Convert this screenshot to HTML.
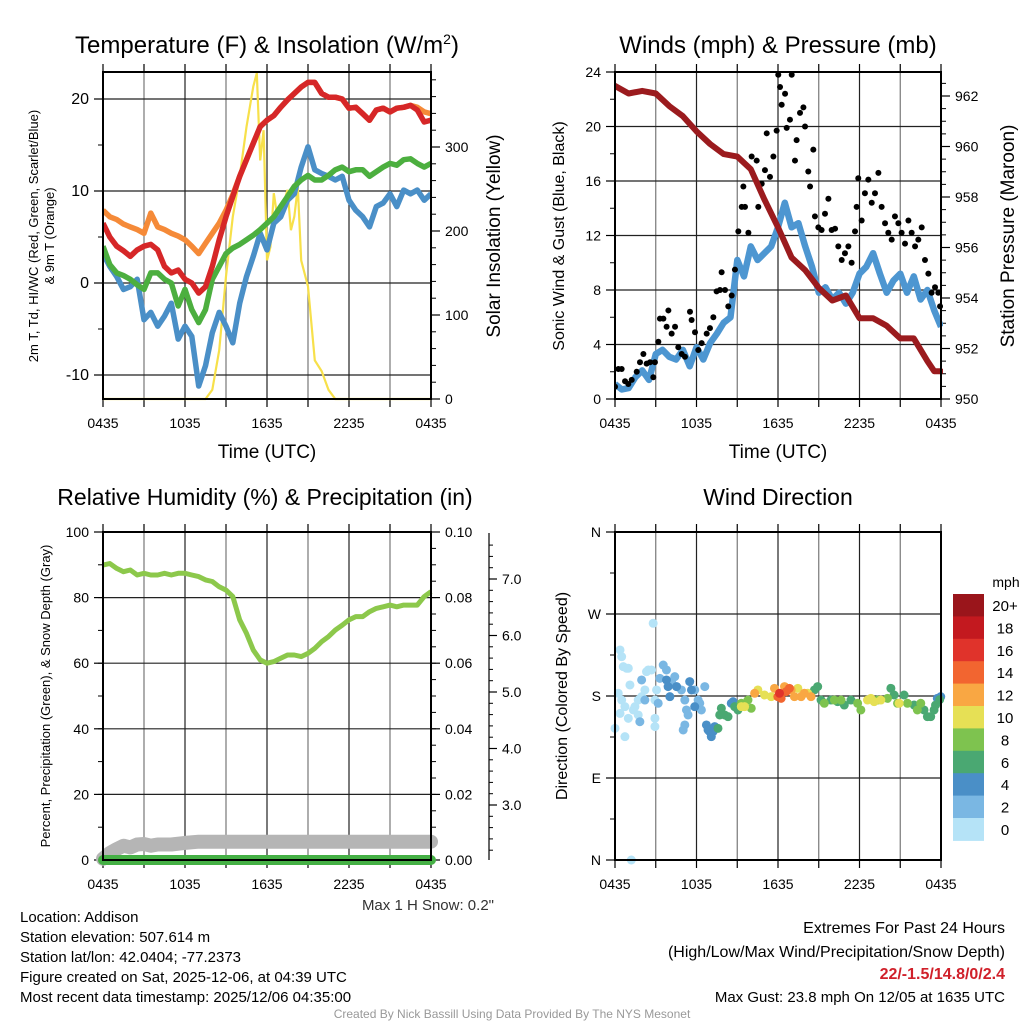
<!DOCTYPE html>
<html><head><meta charset="utf-8"><style>
html,body{margin:0;padding:0;background:#fff;}
svg{display:block;font-family:"Liberation Sans",sans-serif;}
</style></head><body>
<svg id="chart" width="1024" height="1024" viewBox="0 0 1024 1024">
<g id="layer"></g>
</svg>
<script>
// ---------- DATA ----------
const tempT = [0,0.5,1,1.5,2,2.5,3,3.5,4,4.5,5,5.5,6,6.5,7,7.5,8,8.5,9,9.5,10,10.5,11,11.5,12,12.5,13,13.5,14,14.5,15,15.5,16,16.5,17,17.5,18,18.5,19,19.5,20,20.5,21,21.5,22,22.5,23,23.5,24];
const tempRed = [6.5,5.0,4.0,3.5,2.9,3.6,4.0,4.2,3.6,1.8,1.1,1.4,0.4,0,-1.1,-0.4,1.8,4.7,7.2,9.4,11.6,13.4,15.2,17.0,17.7,18.2,19.1,19.9,20.6,21.3,21.8,21.8,20.6,20.2,20.2,20.0,19.0,19.1,18.4,17.7,18.8,19.0,18.6,19.0,19.1,19.3,18.8,17.5,17.7];
const tempOrange = [7.9,7.2,6.9,6.4,6.1,5.8,5.4,7.6,6.1,5.8,5.4,5.1,4.7,4.0,3.2,4.3,5.4,6.5,7.9,9.6,11.6,13.4,15.2,17.0,17.7,18.2,19.1,19.9,20.6,21.3,21.8,21.8,20.6,20.2,20.2,20.0,19.0,19.1,18.4,17.7,18.8,19.0,18.6,19.0,19.1,19.3,19.1,18.6,18.4];
const tempGreen = [4.0,2.0,1.1,0.8,0.4,-0.2,-0.7,1.1,1.1,0.4,0,-2.5,-0.7,-2.9,-4.3,-2.9,0.4,1.8,3.2,3.8,4.2,4.7,5.2,5.8,6.5,7.2,8.3,9.4,10.5,11.2,11.7,11.2,11.2,11.7,12.3,12.6,12.1,12.3,12.3,11.6,12.1,12.6,13.0,12.8,13.4,13.5,13.0,12.6,13.0];
const tempBlue = [3.2,1.8,0.7,-0.7,-0.4,0.4,-4.0,-3.2,-4.7,-3.6,-2.2,-6.1,-4.7,-5.8,-11.2,-9.0,-5.4,-3.2,-4.7,-6.5,-2.2,0.7,2.9,5.4,3.6,6.5,7.2,9.0,9.7,12.6,14.8,12.3,11.9,11.6,11.2,11.6,9.0,7.9,7.2,6.1,8.3,8.7,9.7,8.3,10.1,9.7,10.1,9.0,9.7];
const solarT = [0,7.5,8,8.5,9,9.5,10,10.5,11,11.25,11.5,11.75,12,12.25,12.5,12.75,13,13.5,13.75,14,14.25,14.5,15,15.5,16,16.5,17,24];
const solarV = [0,0,11,58,146,217,265,324,372,388,284,320,165,181,245,217,221,249,201,217,252,165,134,46,33,11,0,0];

const presT = [0,1,2,3,4,5,6,7,8,9,10,11,12,13,14,15,16,17,18,19,20,21,22,23,23.5,24];
const presV = [962.4,962.1,962.2,962.1,961.6,961.2,960.6,960.1,959.7,959.6,959.1,957.9,956.8,955.6,955.1,954.4,953.9,954.1,953.2,953.2,952.9,952.4,952.4,951.5,951.1,951.1];
const windT = tempT;
const windV = [1.1,0.7,0.8,1.6,2.1,1.4,3.3,3.6,3.1,2.9,3.6,2.4,3.8,2.9,4.1,4.8,5.6,6.0,10.2,9.0,11.2,10.2,10.7,11.2,12.6,14.4,12.6,12.9,11.2,9.7,7.8,8.2,7.3,7.8,7.0,7.8,9.2,9.7,10.7,9.2,7.8,8.7,9.2,7.8,9.0,7.3,8.0,6.5,5.3];
const gustT = [0,0.25,0.49,0.74,0.98,1.23,1.6,1.84,2.09,2.33,2.58,2.82,2.94,3.19,3.31,3.56,3.8,3.93,4.17,4.42,4.66,4.91,5.15,5.52,5.64,5.89,6.13,6.38,6.75,6.99,7.24,7.48,7.73,7.85,8.1,8.34,8.59,8.83,9.08,9.33,9.45,9.57,9.82,10.06,10.43,10.55,10.8,11.04,11.17,11.41,11.66,11.9,12.02,12.15,12.27,12.52,12.64,12.88,13.01,13.25,13.37,13.62,13.87,13.99,14.23,14.36,14.6,14.72,14.97,15.21,15.46,15.71,15.95,16.2,16.44,16.69,16.93,17.18,17.42,17.67,17.79,17.91,18.16,18.4,18.65,18.9,19.14,19.39,19.63,19.88,20.12,20.37,20.61,20.86,21.1,21.35,21.6,21.84,22.09,22.33,22.58,22.82,23.07,23.31,23.56,23.8,23.93];
const gustV = [0.9,2.2,2.2,1.3,1.1,1.4,2.0,2.7,3.3,2.6,2.7,1.6,2.7,4.2,5.9,5.9,5.3,6.5,4.8,5.3,3.8,3.3,3.1,6.4,5.8,4.9,3.6,4.1,4.8,5.2,6.0,7.9,8.0,9.3,8.0,6.8,7.6,9.5,12.3,14.1,15.6,14.1,12.2,17.8,17.5,14.1,15.8,16.8,19.5,16.3,17.8,19.7,23.8,22.9,21.6,22.4,19.9,20.5,23.8,17.5,19.0,21.0,21.4,20.0,16.7,15.6,18.3,13.4,12.6,12.4,13.6,14.7,12.4,12.5,11.2,10.2,10.7,11.2,10.0,12.3,14.1,16.2,13.1,15.1,16.1,14.4,15.1,16.6,14.1,12.9,12.2,11.7,13.4,12.9,12.2,11.4,13.1,12.2,11.2,11.7,12.6,10.2,9.2,7.8,8.2,7.8,6.8];

const rhT = tempT;
const rhV = [89.9,90.4,88.9,87.9,88.4,86.9,87.4,86.9,86.9,87.4,86.9,87.4,87.4,86.9,86.4,85.4,84.9,83.3,82.3,80.3,73.2,69.1,64.0,61.0,60.0,60.5,61.5,62.5,62.5,62.0,63.0,64.5,66.6,68.1,70.1,71.6,73.2,74.2,74.2,75.7,76.7,77.2,77.7,77.2,77.7,77.7,77.7,80.3,81.8];
const snowT = [0,0.5,1,1.5,2,2.5,3,3.5,4,4.5,5,6,7,24];
const snowV = [2.05,2.15,2.22,2.28,2.25,2.3,2.31,2.28,2.3,2.3,2.3,2.33,2.35,2.35];
const precipT = [0,24];
const precipV = [0,0];

const dirT = [0.37,0.49,0.61,0.86,0.98,1.1,0.24,0.49,0.73,0.37,0,0.73,0.98,1.47,1.71,1.96,2.2,2.32,2.45,2.69,2.81,2.94,2.94,3.06,2.94,1.71,1.35,1.2,
1.96,1.83,2.2,3.18,3.3,3.55,3.79,4.16,4.4,4.53,4.89,5.14,5.26,5.38,5.14,5.02,5.87,6.12,6.36,6.61,6.24,
3.79,3.91,4.04,4.53,5.5,5.63,5.87,6.73,6.85,6.97,7.09,7.22,7.34,8.56,8.69,23.73,23.98,
7.58,7.71,7.83,8.07,8.32,8.81,9.05,14.92,14.68,15.17,15.9,16.39,16.88,17.37,20.31,20.55,21.28,22.02,22.75,23,23.24,23.49,23.6,23.9,
9.3,9.79,10.03,15.41,16.15,16.64,17.86,18.1,19.33,20.06,20.8,21.53,22.26,22.51,
9.3,9.54,10.52,11.01,11.5,13.46,14.19,18.59,18.84,19.08,19.57,20.92,
10.28,11.74,12.48,12.97,13.21,13.7,13.94,14.43,
11.99,12.23,12.6,12.84,
12.11];
const dirDeg = [230.5,223.2,212.2,210.4,210.4,192.1,183,175.6,168.3,160.9,144.5,135.4,155.5,168.3,175.6,179.3,186.6,206.7,208.6,208.6,259.8,175.6,146.4,186.6,155.5,159.2,164.7,0,
197.6,151.8,175.6,172,199.4,214,208.6,195.8,201.2,190.3,186.6,175.6,164.7,159.2,148.2,142.7,186.6,175.6,164.7,190.3,172,
197.6,190.3,179.3,190.3,195.8,186.6,168.3,148.2,142.7,140.9,135.4,140.9,146.4,172,173.8,177.4,179.3,
144.5,159.2,166.5,159.2,157.3,168.3,164.7,190.3,186.6,175.6,175.6,173.8,170.1,175.6,188.4,181.1,181.1,170.1,164.7,157.3,157.3,164.7,170,176,
172,175.6,166.5,172,175.6,175.6,172,164.7,175.6,177.4,172,172,164.7,172,
168.3,168.3,186.6,181.1,179.3,188.4,183,175.6,177.4,173.8,175.6,172,
183,188.4,190.3,186.6,179.3,179.3,183,179.3,
179.3,177.4,184.8,188.4,
183];
const dirSpd = [1,1,1,1,1,1,1,1,1,1,1,1,1,1,1,1,1,1,1,1,1,1,1,1,1,1,1,1,
3,3,3,3,3,3,3,3,3,3,3,3,3,3,3,3,3,3,3,3,3,
5,5,5,5,5,5,5,5,5,5,5,5,5,5,5,5,5,
7,7,7,7,7,7,7,7,7,7,7,7,7,7,7,7,7,7,7,7,7,7,7,7,
9,9,9,9,9,9,9,9,9,9,9,9,9,9,
11,11,11,11,11,11,11,11,11,11,11,11,
13,13,13,13,13,13,13,13,
15,15,15,15,
17];
const speedLabels = ["0","2","4","6","8","10","12","14","16","18","20+"];
const speedColors = ["#b5e3f7","#7ab7e3","#4a8fc7","#4aa872","#7ec34f","#e6e055","#f9a743","#f26530","#e0332b","#c3191f","#9a151b"];
const timeLabels = ["0435","1035","1635","2235","0435"];

// ---------- helpers ----------
const NS="http://www.w3.org/2000/svg";
const root=document.getElementById('layer');
function mk(tag,attrs,parent){const e=document.createElementNS(NS,tag);for(const k in attrs)e.setAttribute(k,attrs[k]);(parent||root).appendChild(e);return e;}
function txt(x,y,s,size,anchor,parent,extra){const e=mk('text',Object.assign({x:x,y:y,'font-size':size,'text-anchor':anchor||'middle'},extra||{}),parent);e.textContent=s;return e;}
function lin(d0,d1,r0,r1){return v=>r0+(v-d0)*(r1-r0)/(d1-d0);}
function pathD(xs,ys,fx,fy){return xs.map((t,i)=>(i?'L':'M')+fx(t).toFixed(1)+' '+fy(ys[i]).toFixed(1)).join(' ');}

function frame(g,L,T,R,B,fx){
  for(let h=0;h<=24;h+=3){const x=fx(h);
    const gl=mk('line',{x1:x,y1:T,x2:x,y2:B,stroke:(h%6===0)?'#222':'#777','stroke-width':1.2},g);
    
    
    mk('line',{x1:x,y1:B,x2:x,y2:B+8,stroke:'#000','stroke-width':1.2},g);
    mk('line',{x1:x,y1:T,x2:x,y2:T-8,stroke:'#000','stroke-width':1.2},g);
  }
  timeLabels.forEach((s,i)=>{const t=txt(fx(i*6),B+29,s,14,'middle',g);
    
    });
}
function box(g,L,T,R,B){const r=mk('rect',{x:L,y:T,width:R-L,height:B-T,fill:'none',stroke:'#000','stroke-width':2},g);
  }
function yAxis(g,x,T,B,fy,majors,labels,minors,side,grid,L,R,fs){
  const dir=side==='left'?-1:1;
  minors.forEach(v=>{const y=fy(v);mk('line',{x1:x,y1:y,x2:x+dir*5,y2:y,stroke:'#000','stroke-width':1},g);});
  majors.forEach((v,i)=>{const y=fy(v);
    if(grid){const gl=mk('line',{x1:L,y1:y,x2:R,y2:y,stroke:'#222','stroke-width':1.2},g);
      }
    mk('line',{x1:x,y1:y,x2:x+dir*9,y2:y,stroke:'#000','stroke-width':1.2},g);
    const t=txt(x+dir*14,y+5,labels[i],fs||14,side==='left'?'end':'start',g);
    
  });
}

// ---------- Panel 1: Temperature ----------
(function(){
  const g=mk('g',{});
  const L=103,R=431,T=72,B=399;
  const fx=lin(0,24,L,R), fy=lin(0,10,283,191), fs=lin(0,300,399,147);
  frame(g,L,T,R,B,fx);
  const minT=[];for(let v=-10;v<=20;v+=5)minT.push(v);
  yAxis(g,L,T,B,fy,[-10,0,10,20],["-10","0","10","20"],minT,'left',true,L,R,16);
  const minS=[];for(let v=0;v<=380;v+=20)minS.push(v);
  yAxis(g,R,T,B,fs,[0,100,200,300],["0","100","200","300"],minS,'right',false,L,R);
  const cp=mk('clipPath',{id:'c1'},g);mk('rect',{x:L,y:T,width:R-L,height:B-T+3},cp);
  const pg=mk('g',{'clip-path':'url(#c1)'},g);
  const s1=mk('path',{d:pathD(solarT,solarV,fx,fs),fill:'none',stroke:'#f7e04a','stroke-width':2.2},pg);
  
  const s2=mk('path',{d:pathD(tempT,tempBlue,fx,fy),fill:'none',stroke:'#4a8fc7','stroke-width':5.5,'stroke-linejoin':'round'},pg);
  
  const s3=mk('path',{d:pathD(tempT,tempGreen,fx,fy),fill:'none',stroke:'#4caf3f','stroke-width':5.5,'stroke-linejoin':'round'},pg);
  
  const s4=mk('path',{d:pathD(tempT,tempOrange,fx,fy),fill:'none',stroke:'#f58a38','stroke-width':5.5,'stroke-linejoin':'round'},pg);
  
  const s5=mk('path',{d:pathD(tempT,tempRed,fx,fy),fill:'none',stroke:'#d62728','stroke-width':5.5,'stroke-linejoin':'round'},pg);
  
  box(g,L,T,R,B);
  const t=txt(267,53,'Temperature (F) & Insolation (W/m',24,'middle',g);
  const sup=mk('tspan',{dy:-9,'font-size':14},t);sup.textContent='2';
  const cl=mk('tspan',{dy:9},t);cl.textContent=')';
  
  const xt=txt(267,458,'Time (UTC)',19,'middle',g);
  const yt=mk('text',{'font-size':13,'text-anchor':'middle',transform:'translate(38,236) rotate(-90)'},g);
  yt.textContent='2m T, Td, HI/WC (Red, Green, Scarlet/Blue)';
  
  const yt2=mk('text',{'font-size':13,'text-anchor':'middle',transform:'translate(54,236) rotate(-90)'},g);
  yt2.textContent='& 9m T (Orange)';
  
  const rt=mk('text',{'font-size':19,'text-anchor':'middle',transform:'translate(500,236) rotate(-90)'},g);
  rt.textContent='Solar Insolation (Yellow)';
  
})();

// ---------- Panel 2: Winds ----------
(function(){
  const g=mk('g',{});
  const L=615,R=941,T=72,B=399;
  const fx=lin(0,24,L,R), fy=lin(0,24,399,72), fp=lin(950,962,399,96);
  frame(g,L,T,R,B,fx);
  const minW=[];for(let v=0;v<=24;v+=2)minW.push(v);
  yAxis(g,L,T,B,fy,[0,4,8,12,16,20,24],["0","4","8","12","16","20","24"],minW,'left',true,L,R);
  const minP=[];for(let v=950;v<=962.9;v+=0.5)minP.push(v);
  yAxis(g,R,T,B,fp,[950,952,954,956,958,960,962],["950","952","954","956","958","960","962"],minP,'right',false,L,R);
  const cp=mk('clipPath',{id:'c2'},g);mk('rect',{x:L,y:T-2,width:R-L+2,height:B-T+6},cp);
  const pg=mk('g',{'clip-path':'url(#c2)'},g);
  const w=mk('path',{d:pathD(windT,windV,fx,fy),fill:'none',stroke:'#4d96d1','stroke-width':6.5,'stroke-linejoin':'round'},pg);
  
  gustT.forEach((t,i)=>{const c=mk('circle',{cx:fx(t),cy:fy(gustV[i]),r:3,fill:'#000'},pg);
    
    });
  const p=mk('path',{d:pathD(presT,presV,fx,fp),fill:'none',stroke:'#9b1b1e','stroke-width':6,'stroke-linejoin':'round','stroke-linecap':'round'},pg);
  
  box(g,L,T,R,B);
  const t=txt(778,53,'Winds (mph) & Pressure (mb)',24,'middle',g);
  const xt=txt(778,458,'Time (UTC)',19,'middle',g);
  const yt=mk('text',{'font-size':16,'text-anchor':'middle',transform:'translate(564,236) rotate(-90)'},g);yt.textContent='Sonic Wind & Gust (Blue, Black)';
  
  const rt=mk('text',{'font-size':19,'text-anchor':'middle',transform:'translate(1014,236) rotate(-90)'},g);rt.textContent='Station Pressure (Maroon)';
  
})();

// ---------- Panel 3: RH ----------
(function(){
  const g=mk('g',{});
  const L=103,R=431,T=532,B=860;
  const fx=lin(0,24,L,R), fy=lin(0,100,860,532), fpr=lin(0,0.1,860,532), fsn=lin(3,7,805,579);
  frame(g,L,T,R,B,fx);
  const minR=[];for(let v=0;v<=100;v+=10)minR.push(v);
  yAxis(g,L,T,B,fy,[0,20,40,60,80,100],["0","20","40","60","80","100"],minR,'left',true,L,R);
  const minPr=[];for(let v=0;v<=0.1001;v+=0.005)minPr.push(v);
  yAxis(g,R,T,B,fpr,[0,0.02,0.04,0.06,0.08,0.1],["0.00","0.02","0.04","0.06","0.08","0.10"],minPr,'right',false,L,R);
  const sx=489;
  mk('line',{x1:sx,y1:533,x2:sx,y2:860,stroke:'#000','stroke-width':1.2},g);
  for(let v=2.2;v<=7.8;v+=0.2){const y=fsn(v);mk('line',{x1:sx,y1:y,x2:sx+4,y2:y,stroke:'#000','stroke-width':1},g);}
  ["3.0","4.0","5.0","6.0","7.0"].forEach((s,i)=>{const y=fsn(3+i);mk('line',{x1:sx,y1:y,x2:sx+8,y2:y,stroke:'#000','stroke-width':1.2},g);
    const tt=txt(sx+13,y+5,s,14,'start',g);});
  const rh=mk('path',{d:pathD(rhT,rhV,fx,fy),fill:'none',stroke:'#8cc84b','stroke-width':5,'stroke-linejoin':'round'},g);
  
  const sn=mk('path',{d:pathD(snowT,snowV,fx,fsn),fill:'none',stroke:'#b5b5b5','stroke-width':14,'stroke-linejoin':'round','stroke-linecap':'round'},g);
  
  const pr=mk('path',{d:pathD(precipT,precipV,fx,fpr),fill:'none',stroke:'#45b045','stroke-width':10,'stroke-linecap':'round'},g);
  
  box(g,L,T,R,B);
  const t=txt(265,505,'Relative Humidity (%) & Precipitation (in)',23,'middle',g);
  const yt=mk('text',{'font-size':13,'text-anchor':'middle',transform:'translate(50,696) rotate(-90)'},g);yt.textContent='Percent, Precipitation (Green), & Snow Depth (Gray)';
  
  const ms=txt(494,910,'Max 1 H Snow: 0.2"',15,'end',g,{fill:'#333'});
})();

// ---------- Panel 4: Wind direction ----------
(function(){
  const g=mk('g',{});
  const L=615,R=941,T=532,B=860;
  const fx=lin(0,24,L,R), fy=lin(0,360,860,532);
  frame(g,L,T,R,B,fx);
  yAxis(g,L,T,B,fy,[0,90,180,270,360],["N","E","S","W","N"],[45,135,225,315],'left',true,L,R);
  const cp=mk('clipPath',{id:'c4'},g);mk('rect',{x:L-6,y:T,width:R-L+12,height:B-T+6},cp);
  const pg=mk('g',{'clip-path':'url(#c4)'},g);
  dirT.forEach((t,i)=>{const idx=Math.min(10,Math.floor(dirSpd[i]/2));
    const c=mk('circle',{cx:fx(t),cy:fy(dirDeg[i]),r:4.5,fill:speedColors[idx]},pg);
    
    });
  box(g,L,T,R,B);
  const t=txt(778,505,'Wind Direction',23,'middle',g);
  const yt=mk('text',{'font-size':16,'text-anchor':'middle',transform:'translate(567,696) rotate(-90)'},g);yt.textContent='Direction (Colored By Speed)';
  
  const cb=mk('g',{},g);
  const top=594,h=22.4;
  for(let i=0;i<11;i++){const k=10-i;const r=mk('rect',{x:953,y:top+i*h,width:31,height:h+0.5,fill:speedColors[k]},cb);
    
    const tl=txt(1005,top+i*h+17,speedLabels[k],15,'middle',cb);}
  const u=txt(1006,587,'mph',14,'middle',cb);
})();

// ---------- footer ----------
(function(){
  const g=mk('g',{});
  const left=["Location: Addison","Station elevation: 507.614 m","Station lat/lon: 42.0404; -77.2373","Figure created on Sat, 2025-12-06, at 04:39 UTC","Most recent data timestamp: 2025/12/06 04:35:00"];
  left.forEach((s,i)=>{const t=txt(20,922+i*20,s,15,'start',g);});
  const r1=txt(1005,933,'Extremes For Past 24 Hours',16,'end',g);
  const r2=txt(1005,957,'(High/Low/Max Wind/Precipitation/Snow Depth)',16,'end',g);
  const r3=txt(1005,979,'22/-1.5/14.8/0/2.4',16,'end',g,{fill:'#d0202a','font-weight':'bold'});
  const r4=txt(1005,1002,'Max Gust: 23.8 mph On 12/05 at 1635 UTC',15,'end',g);
  const c=txt(512,1018,'Created By Nick Bassill Using Data Provided By The NYS Mesonet',12,'middle',g,{fill:'#999'});
})();
</script>
</body></html>
